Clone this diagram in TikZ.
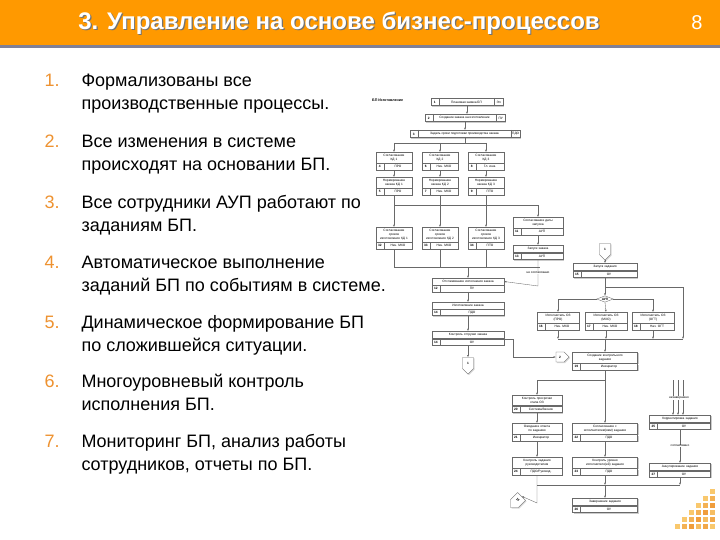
\documentclass[tikz,border=0pt]{standalone}
\usepackage{fontspec}
\setmainfont{Liberation Sans}
\usetikzlibrary{arrows.meta, shapes.geometric, shapes.symbols, shadows, calc}

\definecolor{headorange}{RGB}{255,153,0}
\definecolor{headstripe}{RGB}{128,128,150}
\definecolor{numorange}{RGB}{238,146,48}
\definecolor{boxgray}{RGB}{105,105,105}
\definecolor{dotlight}{RGB}{252,218,130}

\newcommand{\flowfont}{\fontsize{3.2}{3.8}\selectfont}

\tikzset{
  taskhead/.style={draw=boxgray, fill=white, line width=0.35pt, inner xsep=1pt, inner ysep=2.2pt,
    align=center, font=\flowfont, drop shadow={shadow xshift=1.2pt, shadow yshift=-1.2pt, fill=black!40}},
  taskrow/.style={draw=boxgray, fill=white, line width=0.35pt, minimum height=6.5pt, inner sep=0pt,
    drop shadow={shadow xshift=1.2pt, shadow yshift=-1.2pt, fill=black!40}},
  tasknum/.style={font=\flowfont\bfseries, inner sep=0pt},
  taskrole/.style={font=\flowfont, inner sep=0pt},
  flow/.style={-{Latex[length=2.2pt,width=1.8pt]}, line width=0.35pt, boxgray},
  link/.style={line width=0.35pt, boxgray},
  offpage/.style={draw=boxgray, fill=white, line width=0.35pt, signal, signal to=south,
    minimum width=11pt, minimum height=12pt, inner sep=0pt, font=\flowfont\bfseries,
    drop shadow={shadow xshift=1pt, shadow yshift=-1pt, fill=black!30}},
  decision/.style={draw=boxgray, fill=white, line width=0.35pt, diamond, aspect=2.6,
    inner sep=0.6pt, font=\flowfont\bfseries},
  edgenote/.style={font=\flowfont, fill=white, inner sep=0.5pt},
  listnum/.style={anchor=base west, text=numorange, font=\fontsize{18}{23}\selectfont},
  listtext/.style={anchor=base west, align=left, font=\fontsize{18}{23}\selectfont},
}

% box with a title and a row "number | performer"
\newcommand{\procbox}[6]{%
  \pgfmathsetmacro{\taskw}{#3-2}%
  \node[taskhead, text width=\taskw pt, anchor=north] (#1) at (#2) {#4};
  \node[taskrow, minimum width=#3pt, anchor=north] (#1r) at (#1.south) {};
  \draw[link] ([xshift=8pt]#1r.north west) -- ([xshift=8pt]#1r.south west);
  \node[tasknum] (#1n) at ([xshift=4pt]#1r.west) {#5};
  \node[taskrole] (#1p) at ([xshift=4pt]#1r.center) {#6};
}
% one-line box "number | title | performer"
\newcommand{\rowbox}[6]{%
  \node[taskrow, minimum width=#3pt, minimum height=7.5pt, anchor=north] (#1r) at (#2) {};
  \draw[link] ([xshift=8pt]#1r.north west) -- ([xshift=8pt]#1r.south west);
  \draw[link] ([xshift=-9pt]#1r.north east) -- ([xshift=-9pt]#1r.south east);
  \node[tasknum] (#1n) at ([xshift=4pt]#1r.west) {#4};
  \node[taskrole] (#1t) at ([xshift=-0.5pt]#1r.center) {#5};
  \node[taskrole] (#1p) at ([xshift=-4.5pt]#1r.east) {#6};
}

\begin{document}
\begin{tikzpicture}[x=1pt, y=-1pt]
  \useasboundingbox (0,0) rectangle (720,540);
  \fill[white] (0,0) rectangle (720,540);

  % Header
  \fill[headorange] (0,0) rectangle (720,45);
  \fill[headstripe] (0,45) rectangle (720,48);
  \node[text=black!55, font=\fontsize{24}{28}\selectfont\bfseries] (titleshadow) at (340.2,24.2)
    {3. Управление на основе бизнес-процессов};
  \node[text=white, font=\fontsize{24}{28}\selectfont\bfseries] (title) at (339,23)
    {3. Управление на основе бизнес-процессов};
  \node[text=white, font=\fontsize{20}{24}\selectfont] (pagenum) at (697,23) {8};

  % List
  \foreach \n/\yy/\lineA/\lineB in {
      1/87/Формализованы все/производственные процессы.,
      2/148/Все изменения в системе/происходят на основании БП.,
      3/208/Все сотрудники АУП работают по/заданиям БП.,
      4/268/Автоматическое выполнение/заданий БП по событиям в системе.,
      5/328/Динамическое формирование БП/по сложившейся ситуации.,
      6/387/Многоуровневый контроль/исполнения БП.,
      7/447/{Мониторинг БП, анализ работы}/{сотрудников, отчеты по БП.}} {
    \node[listnum] (num\n) at (41,\yy) {\n.};
    \node[listtext] (item\n) at (78,{\yy+23}) {\lineA\\\lineB};
  }

  % Flowchart: order start
  \node[anchor=west, font=\fontsize{3.6}{4}\selectfont\bfseries, inner sep=0pt] (bplabel) at (372,100) {БП Изготовление};
  \rowbox{b1}{467,98}{72}{1}{Плановая заявка БП}{Эл}
  \rowbox{b2}{465,114}{80}{2}{Создание заказа на изготовление}{ПУ}
  \rowbox{b3}{465,130}{110}{3}{Задать сроки подготовки производства заказа}{ПДО}
  \draw[flow] (b1r.south) -- (b1r.south |- b2r.north);
  \draw[flow] (b2r.south) -- (b2r.south |- b3r.north);

  % Flowchart: three parallel branches
  \procbox{c4}{394,152}{36}{Согласование\\КД 1}{4}{ПРО}
  \procbox{c6}{440,152}{36}{Согласование\\КД 2}{6}{Нач. МХО}
  \procbox{c8}{486,152}{36}{Согласование\\КД 3}{8}{Гл. инж.}
  \procbox{c5}{394,177}{36}{Нормирование\\заказа КД 1}{5}{ПРО}
  \procbox{c7}{440,177}{36}{Нормирование\\заказа КД 2}{7}{Нач. МХО}
  \procbox{c9}{486,177}{36}{Нормирование\\заказа КД 3}{9}{ПТО}
  \procbox{c32}{394,227}{36}{Согласование\\сроков\\изготовления КД 1}{32}{Нач. МХО}
  \procbox{c33}{440,227}{36}{Согласование\\сроков\\изготовления КД 2}{33}{Нач. МХО}
  \procbox{c34}{486,227}{36}{Согласование\\сроков\\изготовления КД 3}{34}{ПТО}
  \coordinate (split) at (465,143);
  \draw[link] (b3r.south) -- (split);
  \draw[link] (split -| c4.north) -- (split -| c8.north);
  \foreach \c in {c4,c6,c8} \draw[flow] (split -| \c.north) -- (\c.north);
  \draw[flow] (c4r.south) -- (c5.north);
  \draw[flow] (c6r.south) -- (c7.north);
  \draw[flow] (c8r.south) -- (c9.north);
  \draw[flow] (c5r.south) -- (c32.north);
  \draw[flow] (c7r.south) -- (c33.north);
  \draw[flow] (c9r.south) -- (c34.north);

  % Flowchart: start of production
  \procbox{b11}{538,217}{50}{Согласование даты\\запуска}{11}{АУП}
  \procbox{b13}{538,245}{50}{Запуск заказа}{13}{АУП}
  \coordinate (join1) at (394,205);
  \draw[flow] (join1) -| (b11.north);
  \draw[flow] (b11r.south) -- (b13.north);

  \procbox{b12}{468,278}{72}{Отслеживание исполнения заказа}{12}{ПУ}
  \procbox{b14}{468,302}{72}{Изготовление заказа}{14}{ПДО}
  \procbox{b18}{468,331}{72}{Контроль отгрузки заказа}{14}{ОУ}
  \coordinate (join2) at (394,267);
  \draw[link] (c32r.south) -- (join2) -- (540,267);
  \draw[link] (c33r.south) -- (c33r.south |- join2);
  \draw[link] (c34r.south) -- (c34r.south |- join2);
  \draw[flow] (join2 -| b12.north) -- (b12.north);
  \draw[flow] (b13r.south) -- (538,286) -- (b12.east);
  \node[edgenote] (nogo) at (538,273) {не согласовано};
  \draw[flow] (b12r.south) -- (b14.north);
  \draw[flow] (b14r.south) -- (b18.north);
  \node[offpage] (p1) at (468,363) {1};
  \draw[flow] (b18r.south) -- (p1.north);
  \node[offpage, signal to=east, minimum width=13pt, minimum height=10pt] (p2) at (560,357) {2};
  \draw[flow] (b18.south east) ++(0,1) coordinate (b18out) -- (b18out -| 513,0) |- (p2.west);

  % Flowchart: tasks of the AUP
  \node[offpage] (p3) at (605,249) {1};
  \procbox{b15}{605,263}{64}{Запуск задания}{15}{ОУ}
  \draw[flow] (p3.south) -- (b15.north);
  \node[decision] (aup) at (605,299) {АУП};
  \coordinate (j15) at (605,287);
  \draw[link] (b15r.south) -- (j15);
  \draw[flow] (j15) -- (aup.north);
  \procbox{d16}{558,312}{42}{Исполнитель ОЗ\\(ПРО)}{16}{Нач. МХО}
  \procbox{d17}{606,312}{42}{Исполнитель ОЗ\\(МХО)}{17}{Нач. МХО}
  \procbox{d18}{653,312}{42}{Исполнитель ОЗ\\(ОГТ)}{18}{Нач. ОГТ}
  \draw[flow] (aup.west) -| (d16.north);
  \draw[flow] (aup.east) -| (d18.north);
  \draw[flow] (aup.south) -- (d17.north);
  \coordinate (join3) at (558,339);
  \draw[link] (join3) -- (683,339);
  \draw[flow] (j15) -- (683,287) -- (683,339);
  \foreach \d in {d16,d17,d18} \draw[flow] (\d r.south) -- (\d r.south |- join3);
  \procbox{b19}{605,352}{65}{Создание контрольного\\задания}{19}{Инициатор}
  \draw[flow] (join3 -| b19.north) -- (b19.north);

  % Flowchart: control of the task
  \coordinate (j19) at (605,380);
  \draw[link] (b19r.south) -- (j19);
  \procbox{b20}{537,395}{50}{Контроль просрочки\\этапа ОЗ}{20}{Система/Звонок}
  \procbox{b21}{537,423}{50}{Ожидание ответа\\по заданию}{21}{Инициатор}
  \procbox{b24}{537,457}{50}{Контроль задания\\руководителем}{24}{ПДО/Руковод.}
  \procbox{b22}{605,423}{65}{Согласование с\\исполнителем(ями) задания}{22}{ПДО}
  \procbox{b23}{605,457}{65}{Контроль уровня\\исполнителя(ей) задания}{23}{ПДО}
  \procbox{b25}{680,415}{61}{Корректировка задания}{25}{ОУ}
  \procbox{b27}{680,463}{61}{Аннулирование задания}{27}{ОУ}
  \draw[flow] (j19) -| (b20.north);
  \draw[flow] (j19) -- (b22.north);
  \draw[flow] (b20r.south) -- (b21.north);
  \draw[flow] (b21r.south) -- (b24.north);
  \draw[flow] (b22r.south) -- (b23.north);
  \foreach \xx in {673,678,683} \draw[flow] (\xx,380) -- (\xx,415);
  \node[edgenote] (notdone) at (679,398) {незавершено};
  \draw[flow] (b25r.south) -- (b27.north);
  \node[edgenote] (agreed) at (680,446) {согласовано};
  \coordinate (join4) at (537,485);
  \draw[link] (join4) -- (680,485);
  \draw[flow] (b23r.south) -- (b23r.south |- join4);
  \draw[flow] (b27r.south) -- (b27r.south |- join4);
  \procbox{b26}{605,498}{65}{Завершение задания}{26}{ОУ}
  \draw[flow] (join4 -| b26.north) -- (b26.north);
  \node[offpage, rotate=-45] (p4) at (518,500) {16};
  \draw[flow] (b24r.south) -- (537,503) -- (p4.north);

  % Corner dots
  \foreach \r in {1,...,6}
    \foreach \c in {1,...,\r} {
      \pgfmathtruncatemacro{\shade}{mod(\r*7+\c*3,5)*15+25}
      \fill[numorange!\shade!dotlight] ({712-(\c-1)*7-2.5},{491+(\r-1)*7-2.5}) rectangle ++(5,5);
    }
\end{tikzpicture}
\end{document}
